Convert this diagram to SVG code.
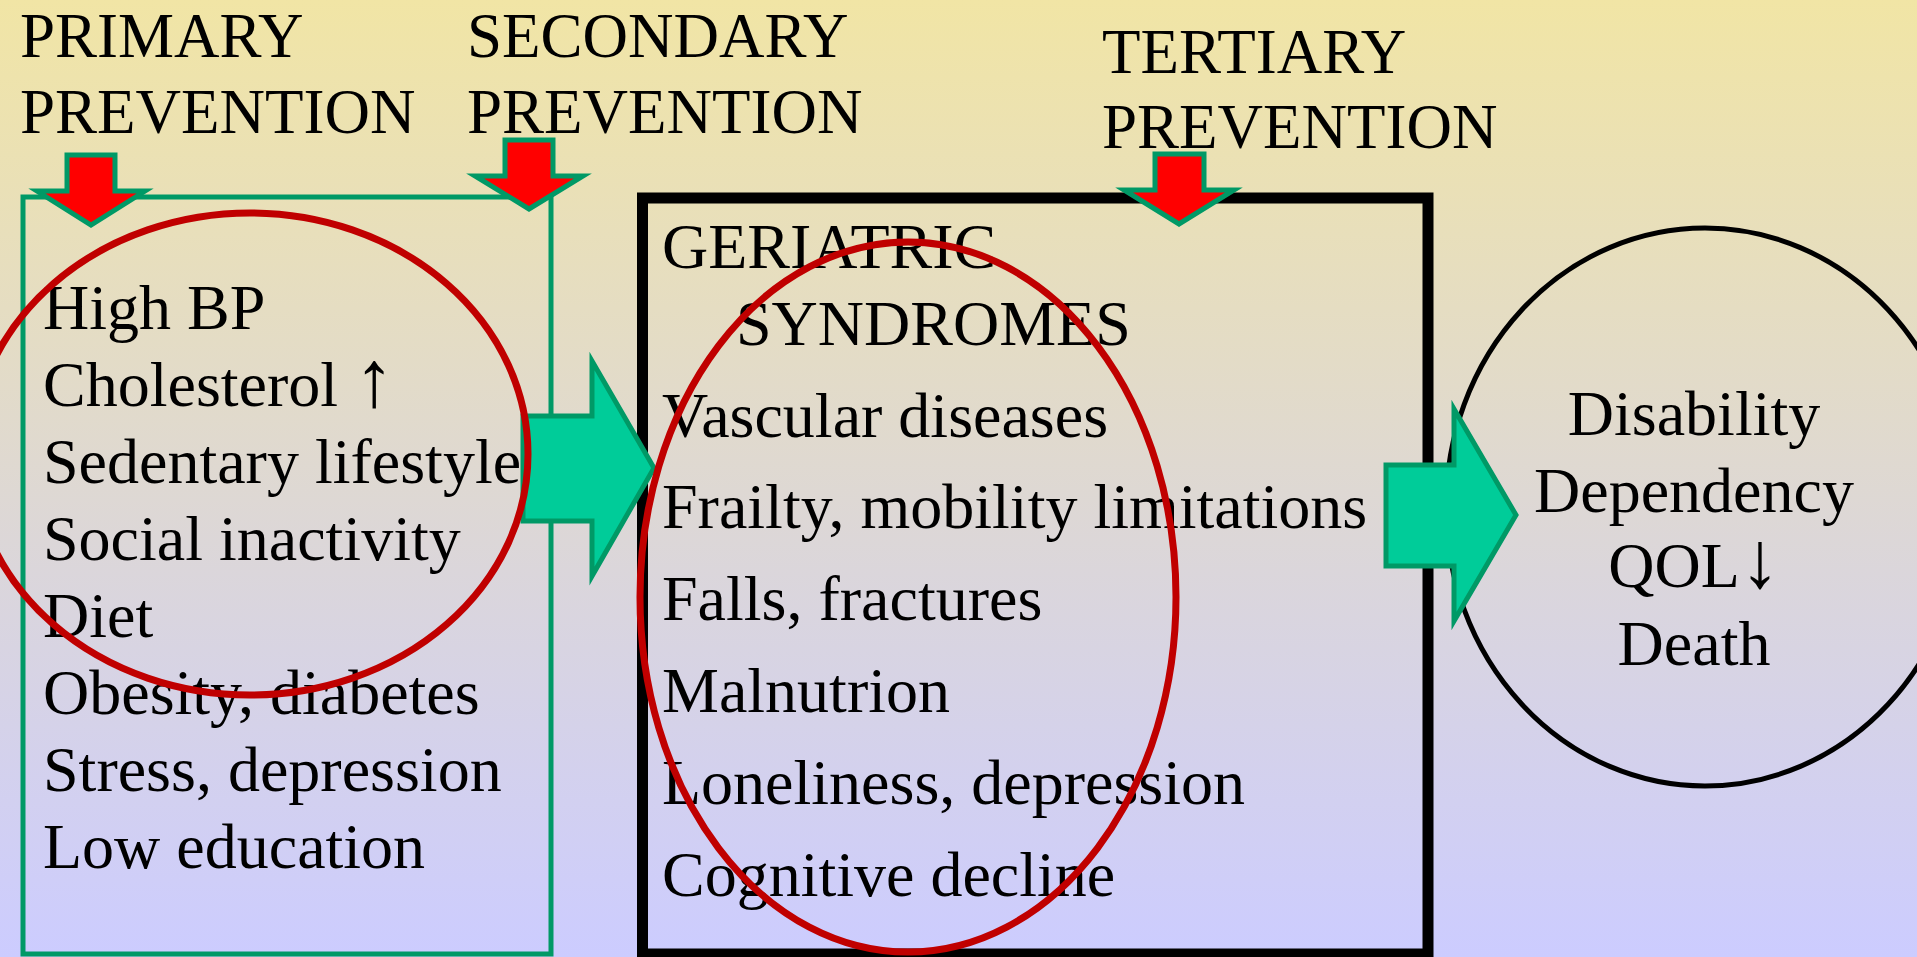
<svg xmlns="http://www.w3.org/2000/svg" width="1917" height="957" viewBox="0 0 1917 957">
<defs>
<linearGradient id="bg" x1="0" y1="0" x2="0" y2="1">
<stop offset="0" stop-color="#F1E5A5"/>
<stop offset="1" stop-color="#CCCCFF"/>
</linearGradient>
</defs>
<style>
text{font-family:"Liberation Serif","Times New Roman",serif;font-size:64px;fill:#000}
.title{font-size:63px}
.mid{text-anchor:middle}
.arr{font-size:80px}
.green{fill:#00CC99;stroke:#009966;stroke-width:5;stroke-linejoin:miter}
.red{fill:#FF0000;stroke:#009966;stroke-width:5;stroke-linejoin:miter}
.hl{fill:none;stroke:#C00000;stroke-width:7}
</style>
<rect x="0" y="0" width="1917" height="957" fill="url(#bg)"/>

<g id="titles">
<text class="title" x="20" y="57">PRIMARY</text>
<text class="title" x="20" y="133">PREVENTION</text>
<text class="title" x="467" y="57">SECONDARY</text>
<text class="title" x="467" y="133">PREVENTION</text>
<text class="title" x="1102" y="73">TERTIARY</text>
<text class="title" x="1102" y="148">PREVENTION</text>
</g>

<g id="risk-factors">
<rect x="23" y="197" width="528" height="757" fill="none" stroke="#009966" stroke-width="5"/>
<text x="43" y="329">High BP</text>
<text x="43" y="406">Cholesterol <tspan class="arr">↑</tspan></text>
<text x="43" y="483">Sedentary lifestyle</text>
<text x="43" y="560">Social inactivity</text>
<text x="43" y="637">Diet</text>
<text x="43" y="714">Obesity, diabetes</text>
<text x="43" y="791">Stress, depression</text>
<text x="43" y="868">Low education</text>
</g>

<g id="geriatric-syndromes">
<rect x="642.5" y="198" width="785.5" height="756" fill="none" stroke="#000" stroke-width="11"/>
<text x="662" y="268">GERIATRIC</text>
<text x="736" y="345">SYNDROMES</text>
<text x="662" y="437">Vascular diseases</text>
<text x="662" y="528">Frailty, mobility limitations</text>
<text x="662" y="620">Falls, fractures</text>
<text x="662" y="712">Malnutrion</text>
<text x="662" y="804">Loneliness, depression</text>
<text x="662" y="896">Cognitive decline</text>
</g>

<g id="outcomes">
<ellipse cx="1705" cy="507" rx="259" ry="279" fill="none" stroke="#000" stroke-width="5"/>
<text class="mid" x="1694" y="435">Disability</text>
<text class="mid" x="1694" y="512">Dependency</text>
<text class="mid" x="1694" y="587">QOL<tspan class="arr">↓</tspan></text>
<text class="mid" x="1694" y="665">Death</text>
</g>

<g id="connectors">
<path class="green" d="M523,416 H592 V361 L654,468 L592,576 V521 H523 Z"/>
<path class="green" d="M1386,465 H1454 V409 L1516,515 L1454,621 V566 H1386 Z"/>
<path class="red" d="M67,155 H115 V191 H145 L91,225 L37,191 H67 Z"/>
<path class="red" d="M505,140 H553 V176 H583 L529,209 L475,176 H505 Z"/>
<path class="red" d="M1155,154 H1204 V190 H1234 L1179,224 L1124,190 H1155 Z"/>
</g>

<g id="highlights">
<ellipse class="hl" cx="250" cy="454" rx="278" ry="241"/>
<ellipse class="hl" cx="908" cy="597" rx="268" ry="355"/>
</g>
</svg>
